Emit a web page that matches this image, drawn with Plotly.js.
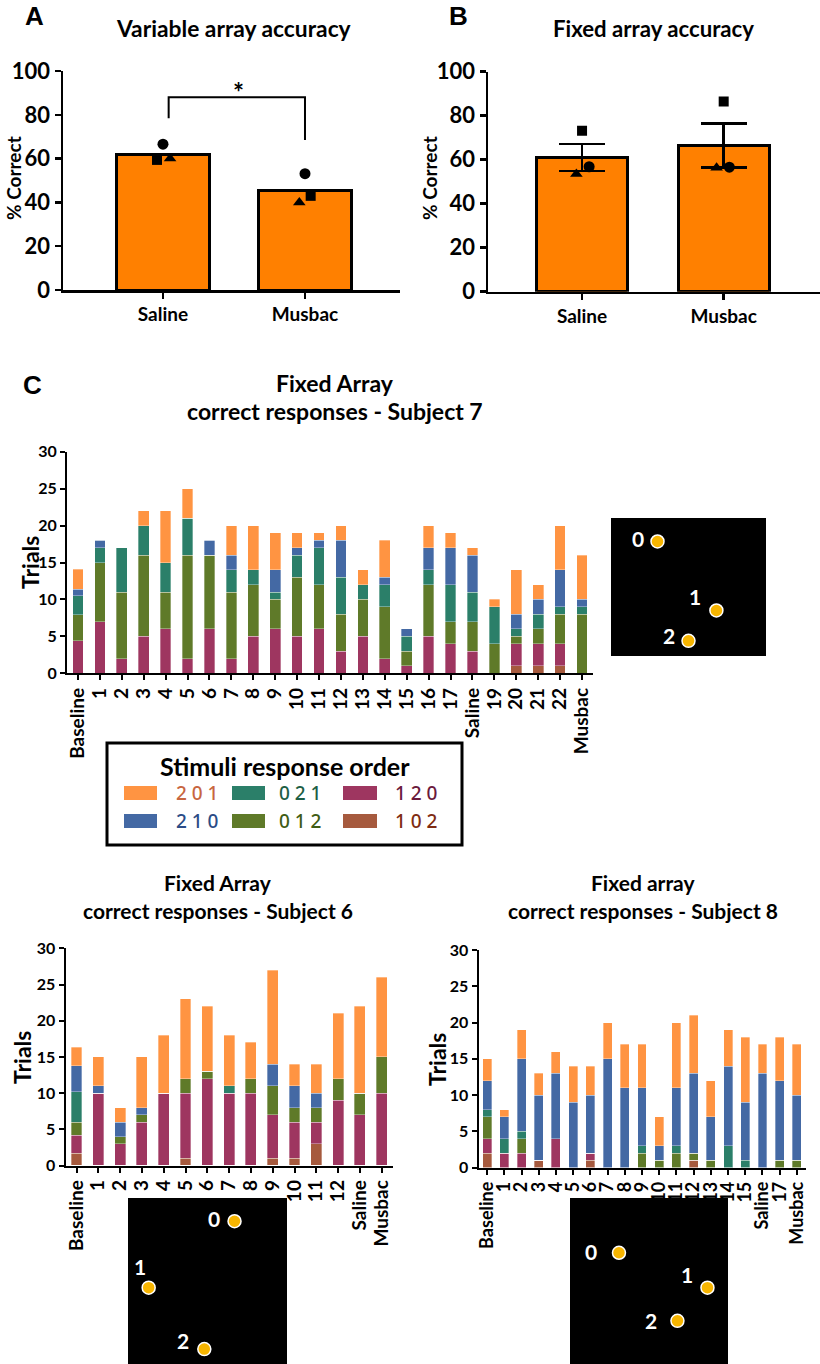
<!DOCTYPE html>
<html><head><meta charset="utf-8">
<script src="https://cdn.plot.ly/plotly-3.0.1.min.js"></script>
<style>html,body{margin:0;padding:0;background:#fff}#chart{width:820px;height:1364px}</style>
</head><body><div id="chart"></div>
<script>
// ---------- Panels A & B ----------
const groups = ["Saline", "Musbac"];
const variableMean = [62, 45.5];
const variableCircle = [66.6, 53.1];
const variableSquare = [59.4, 43.0];
const variableTriangle = [60.0, 40.0];
const fixedMean = [61, 66.5];
const fixedSem = [6.1, 10.0];
const fixedCircle = [56.8, 56.6];
const fixedSquare = [73.2, 86.4];
const fixedTriangle = [53.5, 56.3];

// ---------- Panel C ----------
const orders = ["102", "120", "012", "021", "210", "201"];
const orderColors = ["#A65A3E", "#9E3660", "#5F7A29", "#2B7F69", "#4469A4", "#FF9442"];
const orderTextColors = ["#7F2C12", "#6B1A3C", "#3F5C14", "#1D5E45", "#2B4C86", "#C8663F"];

const s7Sessions = ["Baseline","1","2","3","4","5","6","7","8","9","10","11","12","13","14","15","16","17","Saline","19","20","21","22","Musbac"];
const s7_102 = [0,0,0,0,0,0,0,0,0,0,0,0,0,0,0,0,0,0,0,0,1,1,1,0];
const s7_120 = [4.4,7,2,5,6,2,6,2,5,6,5,6,3,5,2,1,5,4,3,0,3,3,3,0];
const s7_012 = [3.5,8,9,11,5,14,10,9,7,4,8,6,5,5,7,2,7,3,4,4,1,2,4,8];
const s7_021 = [2.6,2,6,4,4,5,0,3,2,1,3,5,5,2,3,2,2,5,4,5,1,2,1,1];
const s7_210 = [0.9,1,0,0,0,0,2,2,0,3,1,1,5,0,1,1,3,5,5,0,2,2,5,1];
const s7_201 = [2.7,0,0,2,7,4,0,4,6,5,2,1,2,2,5,0,3,2,1,1,6,2,6,6];

const s6Sessions = ["Baseline","1","2","3","4","5","6","7","8","9","10","11","12","Saline","Musbac"];
const s6_102 = [1.7,0,0,0,0,1,0,0,0,1,1,3,0,0,0];
const s6_120 = [2.5,10,3,6,10,9,12,10,10,6,5,3,9,7,10];
const s6_012 = [1.8,0,1,1,0,2,1,0,2,4,2,2,3,3,5];
const s6_021 = [4.2,0,0,0,0,0,0,1,0,0,0,0,0,0,0];
const s6_210 = [3.6,1,2,1,0,0,0,0,0,3,3,2,0,0,0];
const s6_201 = [2.5,4,2,7,8,11,9,7,5,13,3,4,9,12,11];

const s8Sessions = ["Baseline","1","2","3","4","5","6","7","8","9","10","11","12","13","14","15","Saline","17","Musbac"];
const s8_102 = [2,0,0,1,0,0,1,0,0,0,0,0,1,0,0,0,0,0,0];
const s8_120 = [2,2,2,0,4,0,1,0,0,0,0,0,0,0,0,0,0,0,0];
const s8_012 = [3,0,2,0,0,0,0,0,0,2,1,2,1,1,0,0,0,1,1];
const s8_021 = [1,2,1,0,0,0,0,0,0,1,0,1,0,0,3,1,0,0,0];
const s8_210 = [4,3,10,9,9,9,8,15,11,8,2,8,11,6,11,8,13,11,9];
const s8_201 = [3,1,4,3,3,5,4,5,6,6,4,9,8,5,5,9,4,6,7];

// stimulus array layouts (normalised positions inside each inset)
const stimLabels = ["0", "1", "2"];
const stim7X = [0.30, 0.68, 0.50], stim7Y = [0.83, 0.33, 0.11];
const stim6X = [0.67, 0.13, 0.48], stim6Y = [0.86, 0.46, 0.09];
const stim8X = [0.31, 0.87, 0.68], stim8Y = [0.67, 0.46, 0.26];

// ---------- helpers ----------
const W = 820, H = 1364;
const FONT = "Lato, 'Open Sans', 'DejaVu Sans', sans-serif";
const fx = p => p / W;
const fy = p => 1 - p / H;
const bold = (size, color) => ({family: FONT, size: size, color: color || "#000", weight: 700});

const traces = [];
const annotations = [];
const shapes = [];

// Panel A
traces.push({type: "bar", x: groups.map((g, i) => i), y: variableMean, width: 0.65, xaxis: "x", yaxis: "y",
  marker: {color: "#FF8000", line: {color: "#000", width: 3}}, showlegend: false, hoverinfo: "skip"});
const jitA = {c: [0, 0], s: [-0.042, 0.04], t: [0.05, -0.04]};
traces.push({type: "scatter", mode: "markers", x: groups.map((g, i) => i + jitA.c[i]), y: variableCircle, xaxis: "x", yaxis: "y",
  marker: {symbol: "circle", size: 11, color: "#000"}, showlegend: false});
traces.push({type: "scatter", mode: "markers", x: groups.map((g, i) => i + jitA.s[i]), y: variableSquare, xaxis: "x", yaxis: "y",
  marker: {symbol: "square", size: 10, color: "#000"}, showlegend: false});
traces.push({type: "scatter", mode: "markers", x: groups.map((g, i) => i + jitA.t[i]), y: variableTriangle, xaxis: "x", yaxis: "y",
  marker: {symbol: "triangle-up", size: 11, color: "#000"}, showlegend: false});

// Panel B
traces.push({type: "bar", x: groups.map((g, i) => i), y: fixedMean, width: 0.64, xaxis: "x2", yaxis: "y2",
  marker: {color: "#FF8000", line: {color: "#000", width: 3}},
  error_y: {type: "data", array: fixedSem, visible: true, color: "#000", thickness: 2.5, width: 23},
  showlegend: false, hoverinfo: "skip"});
const jitB = {c: [0.05, 0.04], s: [0, 0], t: [-0.04, -0.05]};
traces.push({type: "scatter", mode: "markers", x: groups.map((g, i) => i + jitB.c[i]), y: fixedCircle, xaxis: "x2", yaxis: "y2",
  marker: {symbol: "circle", size: 11, color: "#000"}, showlegend: false});
traces.push({type: "scatter", mode: "markers", x: groups.map((g, i) => i + jitB.s[i]), y: fixedSquare, xaxis: "x2", yaxis: "y2",
  marker: {symbol: "square", size: 10, color: "#000"}, showlegend: false});
traces.push({type: "scatter", mode: "markers", x: groups.map((g, i) => i + jitB.t[i]), y: fixedTriangle, xaxis: "x2", yaxis: "y2",
  marker: {symbol: "triangle-up", size: 11, color: "#000"}, showlegend: false});

// Panel C stacked bars
const subjects = [
  {cats: s7Sessions, series: [s7_102, s7_120, s7_012, s7_021, s7_210, s7_201], xa: "x3", ya: "y3", w: 0.49},
  {cats: s6Sessions, series: [s6_102, s6_120, s6_012, s6_021, s6_210, s6_201], xa: "x4", ya: "y4", w: 0.5},
  {cats: s8Sessions, series: [s8_102, s8_120, s8_012, s8_021, s8_210, s8_201], xa: "x5", ya: "y5", w: 0.52}
];
subjects.forEach(sub => {
  sub.series.forEach((vals, k) => {
    traces.push({type: "bar", x: sub.cats, y: vals, name: orders[k], width: sub.w, xaxis: sub.xa, yaxis: sub.ya,
      marker: {color: orderColors[k], line: {color: "rgba(255,255,255,0.55)", width: 0.6}}, showlegend: false});
  });
});

// insets
const insets = [
  {X: stim7X, Y: stim7Y, xa: "x6", ya: "y6", box: [611, 518, 766, 656], off: [[-20, 3], [-21, 14], [-20, 5]]},
  {X: stim6X, Y: stim6Y, xa: "x7", ya: "y7", box: [128, 1198, 287, 1364], off: [[-21, 3], [-9, 21], [-21, 9]]},
  {X: stim8X, Y: stim8Y, xa: "x8", ya: "y8", box: [570, 1198, 728, 1364], off: [[-28, 1], [-20, 13], [-26, 0]]}
];
insets.forEach(ins => {
  shapes.push({type: "rect", xref: "paper", yref: "paper", x0: fx(ins.box[0]), x1: fx(ins.box[2]), y0: fy(ins.box[3]), y1: fy(ins.box[1]),
    fillcolor: "#000", line: {width: 0}, layer: "below"});
  traces.push({type: "scatter", mode: "markers", x: ins.X, y: ins.Y, xaxis: ins.xa, yaxis: ins.ya,
    marker: {size: 13, color: "#F7B500", line: {color: "#fff", width: 1.5}}, showlegend: false, hoverinfo: "skip"});
  ins.X.forEach((x, i) => {
    annotations.push({xref: ins.xa, yref: ins.ya, x: x, y: ins.Y[i], text: stimLabels[i], showarrow: false,
      xshift: ins.off[i][0], yshift: ins.off[i][1], font: bold(21, "#fff")});
  });
});

// text annotations
function ann(text, px, py, size, extra) {
  return Object.assign({xref: "paper", yref: "paper", x: fx(px), y: fy(py), text: text, showarrow: false,
    xanchor: "center", yanchor: "middle", font: bold(size)}, extra || {});
}
const letterFont = {family: "'Liberation Sans', Arial, sans-serif", size: 26, color: "#000", weight: 700};
annotations.push(ann("A", 34, 16, 26, {font: letterFont}));
annotations.push(ann("B", 458, 16, 26, {font: letterFont}));
annotations.push(ann("C", 32, 385, 26, {font: letterFont}));
annotations.push(ann("Variable array accuracy", 234, 28, 22.8));
annotations.push(ann("Fixed array accuracy", 653, 29, 22.2));
annotations.push(ann("% Correct", 13, 178, 19, {textangle: -90}));
annotations.push(ann("% Correct", 429, 178, 19, {textangle: -90}));
annotations.push(ann("Fixed Array", 335, 383, 23));
annotations.push(ann("correct responses - Subject 7", 335, 411, 23));
annotations.push(ann("Fixed Array", 218, 882, 21));
annotations.push(ann("correct responses - Subject 6", 218, 910, 21));
annotations.push(ann("Fixed array", 643, 882, 21));
annotations.push(ann("correct responses - Subject 8", 643, 910, 21));
annotations.push(ann("Trials", 30, 562, 23, {textangle: -90}));
annotations.push(ann("Trials", 22, 1058, 23, {textangle: -90}));
annotations.push(ann("Trials", 437, 1060, 23, {textangle: -90}));
// significance
annotations.push({xref: "x", yref: "y", x: 0.53, y: 90, yshift: -17, text: "*", showarrow: false, yanchor: "bottom", font: bold(26)});
shapes.push({type: "path", xref: "x", yref: "y", path: "M0.04,78.4 V88 H1 V68.5", line: {color: "#000", width: 2}});

// manual legend
shapes.push({type: "rect", xref: "paper", yref: "paper", x0: fx(107), x1: fx(462), y0: fy(845), y1: fy(743), line: {color: "#000", width: 3}});
annotations.push(ann("Stimuli response order", 285, 766, 25));
const legendLayout = [[5, 3, 1], [4, 2, 0]];
const swX = [[124, 157], [232, 265], [343, 377]];
const txX = [197, 300, 416];
const rowY = [793, 821];
legendLayout.forEach((row, r) => row.forEach((k, c) => {
  shapes.push({type: "rect", xref: "paper", yref: "paper", x0: fx(swX[c][0]), x1: fx(swX[c][1]), y0: fy(rowY[r] + 7), y1: fy(rowY[r] - 7),
    fillcolor: orderColors[k], line: {width: 0}});
  annotations.push(ann(orders[k].split("").join(" "), txX[c], rowY[r], 19,
    {font: {family: "'Noto Sans', 'DejaVu Sans', sans-serif", size: 19, color: orderTextColors[k], weight: 500}}));
}));

// axes
const axBase = (lw) => ({showgrid: false, zeroline: false, showline: true, linecolor: "#000", linewidth: lw,
  ticks: "outside", tickcolor: "#000", tickwidth: lw, fixedrange: true});
const catAx = (dom, n, ya, fs) => Object.assign(axBase(2), {domain: dom, type: "category", range: [-0.5, n - 0.5], anchor: ya,
  tickmode: "linear", tick0: 0, dtick: 1, ticklen: 5, tickangle: -90, tickfont: bold(fs)});
const layout = {
  width: W, height: H, margin: {l: 0, r: 0, t: 0, b: 0},
  paper_bgcolor: "#fff", plot_bgcolor: "rgba(0,0,0,0)",
  barmode: "stack", showlegend: false, font: {family: FONT, color: "#000"},
  xaxis: Object.assign(axBase(2.5), {domain: [fx(63), fx(400)], range: [-0.704, 1.669], anchor: "y",
    tickvals: [0, 1], ticktext: groups, ticklen: 6, tickfont: bold(19)}),
  yaxis: Object.assign(axBase(2.5), {domain: [fy(290), fy(71)], range: [0, 100], dtick: 20, anchor: "x", ticklen: 6, tickfont: bold(22)}),
  xaxis2: Object.assign(axBase(2.5), {domain: [fx(488), 1], range: [-0.664, 1.68], anchor: "y2",
    tickvals: [0, 1], ticktext: groups, ticklen: 6, tickfont: bold(19)}),
  yaxis2: Object.assign(axBase(2.5), {domain: [fy(291.7), fy(71.7)], range: [0, 100], dtick: 20, anchor: "x2", ticklen: 6, tickfont: bold(22)}),
  xaxis3: catAx([fx(67), fx(593)], s7Sessions.length, "y3", 19),
  yaxis3: Object.assign(axBase(2), {domain: [fy(673.3), fy(451.7)], range: [0, 30], dtick: 5, anchor: "x3", ticklen: 5, tickfont: bold(16)}),
  xaxis4: catAx([fx(65.6), fx(392.6)], s6Sessions.length, "y4", 19),
  yaxis4: Object.assign(axBase(2), {domain: [fy(1165.5), fy(948.3)], range: [0, 30], dtick: 5, anchor: "x4", ticklen: 5, tickfont: bold(16)}),
  xaxis5: catAx([fx(478.5), fx(805.5)], s8Sessions.length, "y5", 18),
  yaxis5: Object.assign(axBase(2), {domain: [fy(1167.5), fy(950)], range: [0, 30], dtick: 5, anchor: "x5", ticklen: 5, tickfont: bold(16)}),
  annotations: annotations, shapes: shapes
};
insets.forEach(ins => {
  const n = ins.xa.slice(1), m = ins.ya.slice(1);
  layout["xaxis" + n] = {domain: [fx(ins.box[0]), fx(ins.box[2])], range: [0, 1], visible: false, anchor: ins.ya, fixedrange: true};
  layout["yaxis" + m] = {domain: [fy(ins.box[3]), fy(ins.box[1])], range: [0, 1], visible: false, anchor: ins.xa, fixedrange: true};
});

Plotly.newPlot("chart", traces, layout, {staticPlot: true, displayModeBar: false});
</script></body></html>
